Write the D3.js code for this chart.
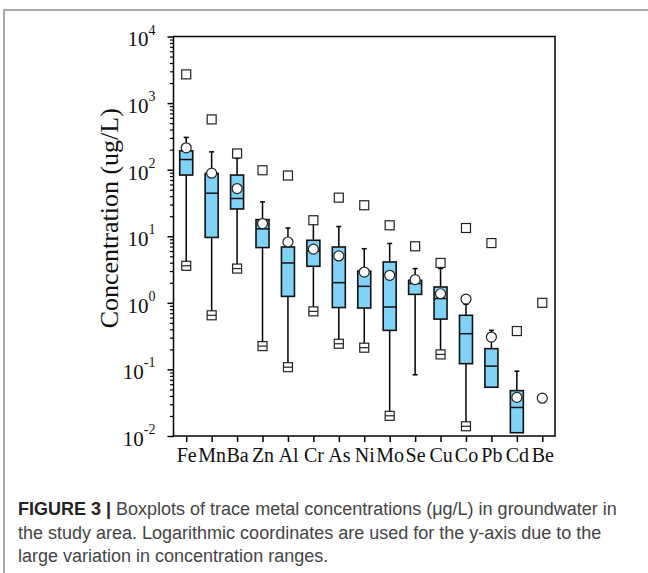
<!DOCTYPE html>
<html>
<head>
<meta charset="utf-8">
<script src="https://cdn.jsdelivr.net/npm/d3@7"></script>
<style>
  html, body { margin: 0; padding: 0; background: #fff; }
  svg { display: block; }
</style>
</head>
<body>
<svg id="chart" width="648" height="573"></svg>
<script>
// ---- Data (µg/L) ----
const categories = ["Fe","Mn","Ba","Zn","Al","Cr","As","Ni","Mo","Se","Cu","Co","Pb","Cd","Be"];
const maxOutlier = [2700, 569, 175, 98, 81.6, 17.4, 38, 29.2, 14.6, 7.07, 3.97, 13.3, 7.9, 0.377, 1.0];
const whiskerHigh = [305, 185, 148, 32.8, 13.3, 17.4, 14.0, 6.5, 7.8, 3.27, 3.27, 0.95, 0.386, 0.094, null];
const q3Values    = [192, 88, 83, 17.8, 6.9, 8.7, 6.9, 3.0, 4.11, 2.18, 1.73, 0.65, 0.205, 0.048, null];
const medianValues= [142, 44.3, 36.9, 12.9, 3.97, 6.0, 2.01, 1.77, 0.865, 1.95, 1.16, 0.344, 0.112, 0.0268, null];
const q1Values    = [83, 9.6, 25.7, 6.76, 1.25, 3.54, 0.85, 0.835, 0.386, 1.34, 0.57, 0.122, 0.054, 0.0112, null];
const whiskerLow  = [3.6, 0.65, 3.27, 0.224, 0.108, 0.745, 0.243, 0.212, 0.0201, 0.083, 0.168, 0.014, null, null, null];
const minOutlier  = [3.6, 0.65, 3.27, 0.224, 0.108, 0.745, 0.243, 0.212, 0.0201, null, 0.168, 0.014, null, null, null];
const meanValues  = [213, 88.6, 52, 15.5, 8.2, 6.4, 5.06, 2.9, 2.59, 2.23, 1.37, 1.14, 0.306, 0.038, 0.037];
const yTickExponents = [-2, -1, 0, 1, 2, 3, 4];
const yTitle = "Concentration (ug/L)";
const captionBold = "FIGURE 3 |";
const captionLines = [
  " Boxplots of trace metal concentrations (\u03BCg/L) in groundwater in",
  "the study area. Logarithmic coordinates are used for the y-axis due to the",
  "large variation in concentration ranges."
];

const rows = categories.map((c, i) => ({
  cat: c, max: maxOutlier[i], wHi: whiskerHigh[i], q3: q3Values[i], med: medianValues[i],
  q1: q1Values[i], wLo: whiskerLow[i], min: minOutlier[i], mean: meanValues[i]
}));

// ---- Layout ----
const svg = d3.select("#chart");
const plot = { left: 173.5, right: 555, top: 36.5, bottom: 436 };
const serif = "'Liberation Serif', 'Times New Roman', serif";
const sans = "'Liberation Sans', Arial, Helvetica, sans-serif";

// outer figure frame (top & left gray rules)
svg.append("line").attr("x1", 3).attr("x2", 648).attr("y1", 10).attr("y2", 10)
  .attr("stroke", "#a8a8a8").attr("stroke-width", 2);
svg.append("line").attr("x1", 4).attr("x2", 4).attr("y1", 9).attr("y2", 573)
  .attr("stroke", "#a8a8a8").attr("stroke-width", 2);

const x = d3.scalePoint().domain(categories).range([plot.left, plot.right]).padding(0.5);
const y = d3.scaleLog().domain([0.01, 10000]).range([plot.bottom, plot.top]);

const boxW = 13, capW = 5, sq = 9, rMean = 5;
const boxFill = "#80d3f7";

// minor y ticks
const minorTicks = y.ticks().filter(v => {
  const l = Math.log10(v); return Math.abs(l - Math.round(l)) > 1e-9;
});
svg.append("g").attr("transform", `translate(${plot.left},0)`)
  .call(d3.axisLeft(y).tickValues(minorTicks).tickSize(3.5).tickFormat(""))
  .call(g => g.select(".domain").remove())
  .call(g => g.selectAll("line").attr("stroke", "#000").attr("stroke-width", 1.2));

// major y axis
const yAxis = svg.append("g").attr("transform", `translate(${plot.left},0)`)
  .call(d3.axisLeft(y).tickValues(yTickExponents.map(e => Math.pow(10, e))).tickSize(6).tickPadding(12).tickFormat(""));
yAxis.select(".domain").remove();
yAxis.selectAll("line").attr("stroke", "#000").attr("stroke-width", 1.5);
yAxis.selectAll(".tick text").each(function(d) {
  const t = d3.select(this);
  t.attr("font-family", serif).attr("font-size", 21).attr("fill", "#111").attr("dy", "0.45em");
  t.append("tspan").text("10");
  t.append("tspan").text(Math.round(Math.log10(d))).attr("font-size", 14).attr("dy", "-0.85em");
});

// x axis
const xAxis = svg.append("g").attr("transform", `translate(0,${plot.bottom})`)
  .call(d3.axisBottom(x).tickSize(6).tickPadding(6));
xAxis.select(".domain").remove();
xAxis.selectAll("line").attr("stroke", "#000").attr("stroke-width", 1.5);
xAxis.selectAll("text").attr("font-family", serif).attr("font-size", 20).attr("fill", "#111");

// frame
svg.append("rect").attr("x", plot.left).attr("y", plot.top)
  .attr("width", plot.right - plot.left).attr("height", plot.bottom - plot.top)
  .attr("fill", "none").attr("stroke", "#000").attr("stroke-width", 1.5);

// y title
svg.append("text")
  .attr("transform", `translate(118,${(plot.top + plot.bottom) / 2 - 18}) rotate(-90)`)
  .attr("text-anchor", "middle").attr("font-family", serif).attr("font-size", 26).attr("fill", "#111")
  .text(yTitle);

// ---- Boxes ----
const g = svg.append("g");
const items = g.selectAll("g.item").data(rows).join("g").attr("class", "item")
  .attr("transform", d => `translate(${x(d.cat)},0)`);

// whiskers
items.filter(d => d.wHi != null && d.q3 != null).append("line")
  .attr("x1", 0).attr("x2", 0).attr("y1", d => y(d.q3)).attr("y2", d => y(d.wHi))
  .attr("stroke", "#000").attr("stroke-width", 1.5);
items.filter(d => d.wHi != null).append("line")
  .attr("x1", -capW / 2).attr("x2", capW / 2).attr("y1", d => y(d.wHi)).attr("y2", d => y(d.wHi))
  .attr("stroke", "#000").attr("stroke-width", 1.5);
items.filter(d => d.wLo != null && d.q1 != null).append("line")
  .attr("x1", 0).attr("x2", 0).attr("y1", d => y(d.q1)).attr("y2", d => y(d.wLo))
  .attr("stroke", "#000").attr("stroke-width", 1.5);
items.filter(d => d.wLo != null && d.min == null).append("line")
  .attr("x1", -capW / 2).attr("x2", capW / 2).attr("y1", d => y(d.wLo)).attr("y2", d => y(d.wLo))
  .attr("stroke", "#000").attr("stroke-width", 1.5);

// boxes
items.filter(d => d.q3 != null).append("rect")
  .attr("x", -boxW / 2).attr("width", boxW)
  .attr("y", d => y(d.q3)).attr("height", d => y(d.q1) - y(d.q3))
  .attr("fill", boxFill).attr("stroke", "#111").attr("stroke-width", 1.6);
items.filter(d => d.med != null).append("line")
  .attr("x1", -boxW / 2).attr("x2", boxW / 2).attr("y1", d => y(d.med)).attr("y2", d => y(d.med))
  .attr("stroke", "#111").attr("stroke-width", 1.5);

// outlier squares (max / min)
items.filter(d => d.max != null).append("rect")
  .attr("x", -sq / 2).attr("y", d => y(d.max) - sq / 2).attr("width", sq).attr("height", sq)
  .attr("fill", "#fff").attr("stroke", "#222").attr("stroke-width", 1.2);
const minG = items.filter(d => d.min != null);
minG.append("rect")
  .attr("x", -sq / 2).attr("y", d => y(d.min) - sq / 2).attr("width", sq).attr("height", sq)
  .attr("fill", "#fff").attr("stroke", "#222").attr("stroke-width", 1.2);
minG.append("line")
  .attr("x1", -sq / 2).attr("x2", sq / 2).attr("y1", d => y(d.min)).attr("y2", d => y(d.min))
  .attr("stroke", "#222").attr("stroke-width", 1.2);

// means
items.filter(d => d.mean != null).append("circle")
  .attr("cx", 0).attr("cy", d => y(d.mean)).attr("r", rMean)
  .attr("fill", "#fff").attr("stroke", "#222").attr("stroke-width", 1.2);

// ---- Caption ----
const cap = svg.append("g").attr("font-family", sans).attr("font-size", 18);
const l1 = cap.append("text").attr("x", 18).attr("y", 515).attr("fill", "#444");
l1.append("tspan").attr("font-weight", "bold").attr("fill", "#222").text(captionBold);
l1.append("tspan").text(captionLines[0]);
cap.append("text").attr("x", 18).attr("y", 539).attr("fill", "#444").text(captionLines[1]);
cap.append("text").attr("x", 18).attr("y", 562).attr("fill", "#444").text(captionLines[2]);
</script>
</body>
</html>
